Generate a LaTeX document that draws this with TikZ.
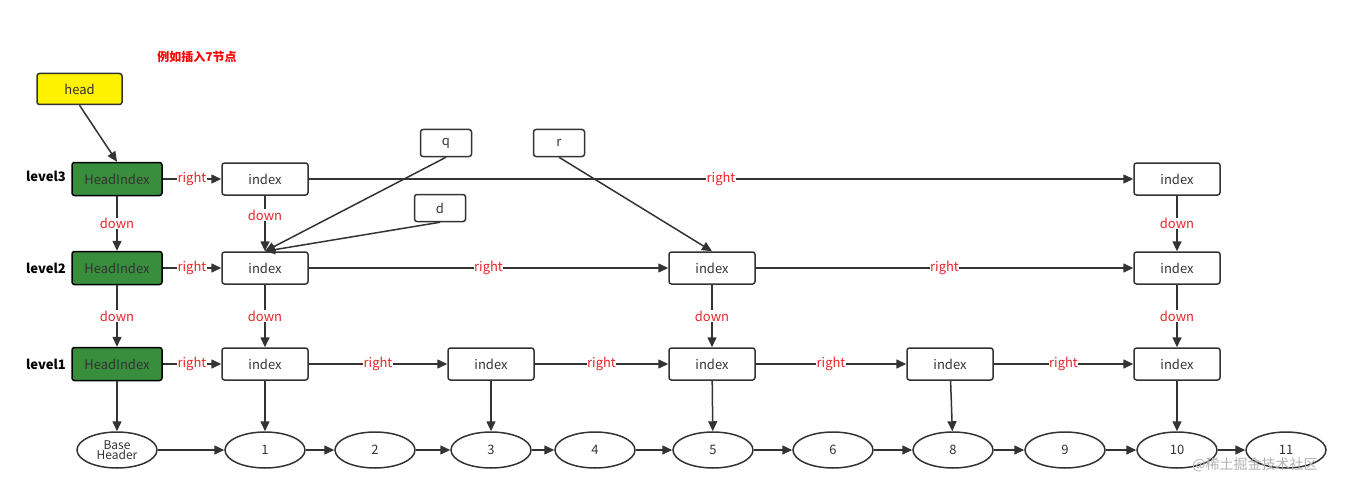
\documentclass[tikz,border=0pt]{standalone}
\usepackage{fontspec}
\setmainfont{Noto Sans CJK SC}
\usetikzlibrary{arrows.meta,shapes.geometric}
\definecolor{dk}{HTML}{333333}
\definecolor{gr}{HTML}{388E3C}
\definecolor{rd}{HTML}{E8262B}
\begin{document}
\begin{tikzpicture}[x=1pt,y=-1pt,
  box/.style={draw=dk,line width=1.5pt,rounded corners=2.5pt,minimum width=86pt,minimum height=32pt,font=\fontsize{13}{14}\selectfont,text=dk,inner sep=0pt},
  hidx/.style={box,fill=gr,minimum width=90pt,minimum height=33pt,draw=black},
  ell/.style={draw=dk,line width=1.5pt,ellipse,minimum width=80pt,minimum height=36pt,inner sep=0pt,font=\fontsize{13}{14}\selectfont,text=dk,align=center},
  lev/.style={font=\bfseries\fontsize{13}{14}\selectfont},
  arr/.style={draw=dk,line width=1.5pt,-{Triangle[length=10pt,width=9pt]}},
  lab/.style={fill=white,inner sep=0.5pt,text=rd,font=\fontsize{13}{14}\selectfont}]
\useasboundingbox (0,0) rectangle (1351,492);
\node[text=red,font=\bfseries\fontsize{12}{13}\selectfont] (title) at (197,57) {例如插入7节点};
\node[box,fill=yellow,minimum width=85pt,minimum height=31pt] (head) at (79.5,89) {head};
\node[lev] (l3) at (46,176) {level3};
\node[lev] (l2) at (46,268) {level2};
\node[lev] (l1) at (46,364) {level1};
\node[hidx] (h3) at (117,179) {HeadIndex};
\node[hidx] (h2) at (117,268) {HeadIndex};
\node[hidx] (h1) at (117,364) {HeadIndex};
\node[box] (a3) at (265,179) {index};
\node[box] (e3) at (1177,179) {index};
\node[box] (a2) at (265,268) {index};
\node[box] (c2) at (712,268) {index};
\node[box] (e2) at (1177,268) {index};
\node[box] (a1) at (265,364) {index};
\node[box] (b1) at (491,364) {index};
\node[box] (c1) at (712,364) {index};
\node[box] (d1) at (950,364) {index};
\node[box] (e1) at (1177,364) {index};
\node[box,minimum width=51pt,minimum height=27pt] (q) at (446,143) {q};
\node[box,minimum width=51pt,minimum height=27pt] (r) at (559,143) {r};
\node[box,minimum width=51pt,minimum height=27pt] (d) at (440,208) {d};
\node[ell,font=\fontsize{12}{12}\selectfont] (bh) at (117,450) {Base\\[-2pt]Header};
\foreach \n/\x in {1/265,2/375,3/491,4/595,5/713,6/833,8/953,9/1065,10/1177,11/1286}
  \node[ell] (n\n) at (\x,450) {\n};
\node[text=gray!60,font=\fontsize{14}{15}\selectfont] (wm) at (1255,465) {@稀土掘金技术社区};
\draw[arr] (head.south) -- (h3.north);
\draw[arr] (h3) -- node[lab]{down} (h2);
\draw[arr] (h2) -- node[lab]{down} (h1);
\draw[arr] (h1) -- (bh);
\draw[arr] (h3) -- node[lab]{right} (a3);
\draw[arr] (h2) -- node[lab]{right} (a2);
\draw[arr] (h1) -- node[lab]{right} (a1);
\draw[arr] (a3) -- node[lab]{right} (e3);
\draw[arr] (a2) -- node[lab]{right} (c2);
\draw[arr] (c2) -- node[lab]{right} (e2);
\draw[arr] (a1) -- node[lab]{right} (b1);
\draw[arr] (b1) -- node[lab]{right} (c1);
\draw[arr] (c1) -- node[lab]{right} (d1);
\draw[arr] (d1) -- node[lab]{right} (e1);
\draw[arr] (a3) -- node[lab,pos=0.35]{down} (a2);
\draw[arr] (a2) -- node[lab]{down} (a1);
\draw[arr] (e3) -- node[lab]{down} (e2);
\draw[arr] (e2) -- node[lab]{down} (e1);
\draw[arr] (c2) -- node[lab]{down} (c1);
\draw[arr] (q.south) -- (a2.north);
\draw[arr] (d.south) -- (a2.north);
\draw[arr] (r.south) -- (c2.north);
\draw[arr] (a1) -- (n1);
\draw[arr] (b1) -- (n3);
\draw[arr] (c1) -- (n5);
\draw[arr] (d1) -- (n8);
\draw[arr] (e1) -- (n10);
\draw[arr] (bh) -- (n1);
\draw[arr] (n1) -- (n2);
\draw[arr] (n2) -- (n3);
\draw[arr] (n3) -- (n4);
\draw[arr] (n4) -- (n5);
\draw[arr] (n5) -- (n6);
\draw[arr] (n6) -- (n8);
\draw[arr] (n8) -- (n9);
\draw[arr] (n9) -- (n10);
\draw[arr] (n10) -- (n11);
\end{tikzpicture}
\end{document}
